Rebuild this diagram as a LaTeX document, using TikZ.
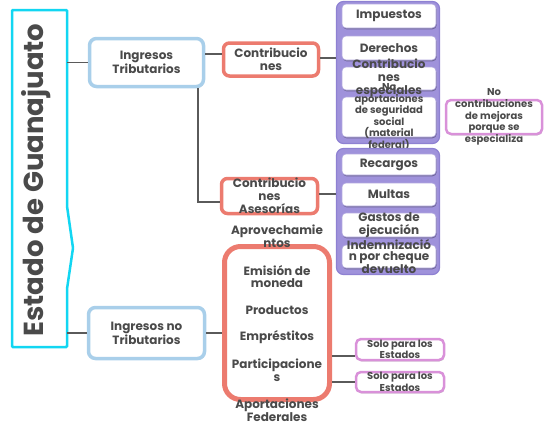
\documentclass[tikz,border=0pt]{standalone}
\usepackage{fontspec}
\setmainfont{Poppins}
\usetikzlibrary{shadows}
\definecolor{txtc}{HTML}{4A4A4A}
\definecolor{cyanc}{HTML}{12D6F2}
\definecolor{bluec}{HTML}{A9CFEA}
\definecolor{redc}{HTML}{EC7B6F}
\definecolor{purc}{HTML}{9F92DB}
\definecolor{purd}{HTML}{8E81D2}
\definecolor{pinkc}{HTML}{D991D9}
\definecolor{linec}{HTML}{5A5A5A}
\tikzset{
  shd/.style={drop shadow={shadow xshift=0.6pt,shadow yshift=-1.3pt,opacity=0.3,fill=black}},
  txt/.style={text=txtc,font=\bfseries\fontsize{12}{12.8}\selectfont,align=center,inner sep=0pt},
  stxt/.style={text=txtc,font=\bfseries\fontsize{10}{11.6}\selectfont,align=center,inner sep=0pt},
  bluebox/.style={draw=bluec,line width=3.5pt,fill=white,rounded corners=7pt,shd,inner sep=0pt},
  redbox/.style={draw=redc,line width=3.5pt,fill=white,rounded corners=6pt,shd,inner sep=0pt},
  bigred/.style={draw=redc,line width=5pt,fill=white,rounded corners=16pt,shd,inner sep=0pt},
  group/.style={draw=purd,line width=1.2pt,fill=purc,rounded corners=7pt,inner sep=0pt},
  inbox/.style={draw=purd!70!white,line width=0.6pt,fill=white,rounded corners=4pt,shd,inner sep=0pt,minimum width=94pt},
  pinkbox/.style={draw=pinkc,line width=2.5pt,fill=white,rounded corners=5pt,shd,inner sep=0pt},
  conn/.style={draw=linec,line width=1.4pt},
}
\begin{document}
\begin{tikzpicture}[x=1pt,y=-1pt]
\useasboundingbox (0,0) rectangle (553,431);
% main
\draw[cyanc,line width=2.5pt,rounded corners=1pt] (12,10) -- (67,10) -- (67,206) -- (73,248) -- (67,289) -- (67,347) -- (12,347) -- cycle;
\node[minimum width=55pt,minimum height=337pt,inner sep=0pt] (main) at (39.5,178.5) {};
\node[rotate=90,text=txtc,font=\bfseries\fontsize{27.5}{27.5}\selectfont,inner sep=0pt] (title) at (36,180) {Estado de Guanajuato};
% level 1
\node[bluebox,minimum width=114pt,minimum height=48pt] (it) at (146.5,62.5) {};
\node[txt] at (it) {Ingresos\\Tributarios};
\node[bluebox,minimum width=116pt,minimum height=51pt] (int) at (146.5,333) {};
\node[txt] at (int) {Ingresos no\\Tributarios};
% level 2
\node[redbox,minimum width=95pt,minimum height=33pt] (c1) at (271,59.5) {};
\node[txt] at (c1) {Contribucio\\nes};
\node[redbox,minimum width=96pt,minimum height=35pt] (c2) at (269.5,196) {};
\node[txt] at (c2) {Contribucio\\nes\\Asesorías};
\node[bigred,minimum width=105pt,minimum height=153pt] (big) at (277,323) {};
\node[txt] at (277,236) {Aprovechamie\\ntos};
\node[txt] at (277,276.5) {Emisión de\\moneda};
\node[txt] at (277,310) {Productos};
\node[txt] at (277,337) {Empréstitos};
\node[txt] at (277,370.5) {Participacione\\s};
\node[txt] at (277,410.5) {Aportaciones\\Federales};
% group 1
\node[group,minimum width=103pt,minimum height=142pt] (g1) at (388,72.5) {};
\node[inbox,minimum height=24pt] (i1) at (389,16) {};
\node[txt] at (i1) {Impuestos};
\node[inbox,minimum height=24pt] (i2) at (389,48) {};
\node[txt] at (i2) {Derechos};
\node[inbox,minimum height=23pt] (i3) at (389,78.5) {};
\node[txt] at (i3) {Contribucio\\nes\\especiales};
\node[inbox,minimum height=40pt] (i4) at (389,117) {};
\node[stxt] at (i4) {No\\aportaciones\\de seguridad\\social\\(material\\federal)};
\node[pinkbox,minimum width=96pt,minimum height=34pt] (nc) at (494,117) {};
\node[stxt] at (nc) {No\\contribuciones\\de mejoras\\porque se\\especializa};
% group 2
\node[group,minimum width=103pt,minimum height=126pt] (g2) at (388,211.5) {};
\node[inbox,minimum height=21pt] (r1) at (389,164.5) {};
\node[txt] at (r1) {Recargos};
\node[inbox,minimum height=23pt] (r2) at (389,194.5) {};
\node[txt] at (r2) {Multas};
\node[inbox,minimum height=24pt] (r3) at (389,225) {};
\node[txt] at (r3) {Gastos de\\ejecución};
\node[inbox,minimum height=23pt] (r4) at (389,256.5) {};
\node[txt,font=\bfseries\fontsize{12}{11}\selectfont] at (r4) {Indemnizació\\n por cheque\\devuelto};
% solo boxes
\node[pinkbox,minimum width=88pt,minimum height=21pt] (s1) at (400,349.5) {};
\node[stxt] at (s1) {Solo para los\\Estados};
\node[pinkbox,minimum width=88pt,minimum height=20pt] (s2) at (400,382) {};
\node[stxt] at (s2) {Solo para los\\Estados};
% connectors
\draw[conn] (main.east |- it.west) -- (it.west);
\draw[conn] (main.east |- int.west) -- (int.west);
\draw[conn] ([yshift=8.5pt]it.east) -- ([yshift=5.5pt]c1.west);
\draw[conn] ([xshift=51.5pt]it.south) |- ([yshift=-6pt]c2.west);
\draw[conn] ([yshift=1.5pt]c1.east) -- ([yshift=14.5pt]g1.west);
\draw[conn] ([yshift=2pt]c2.east) -- ([yshift=17.5pt]g2.west);
\draw[conn] (int.east) -- (big.west |- int.east);
\draw[conn] ([yshift=-33pt]big.east) -- ([yshift=-6.5pt]s1.west);
\draw[conn] (big.east |- s2.west) -- (s2.west);
\end{tikzpicture}
\end{document}
